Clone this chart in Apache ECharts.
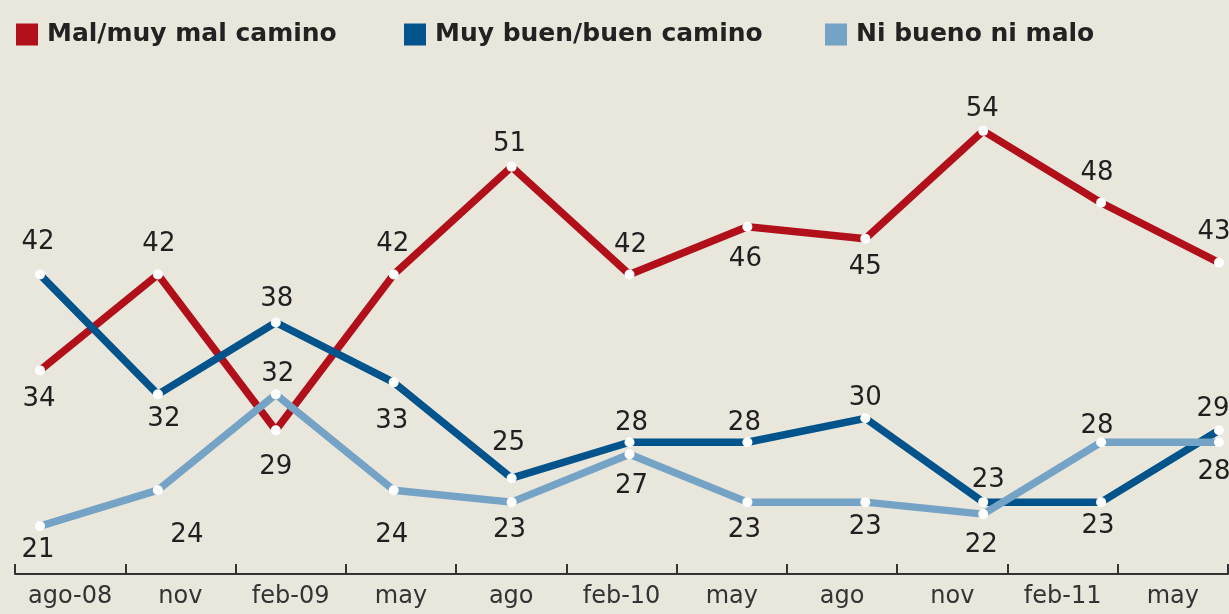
<!DOCTYPE html>
<html><head><meta charset="utf-8">
<script src="https://cdn.jsdelivr.net/npm/echarts@6/dist/echarts.min.js"></script>
<style>html,body{margin:0;padding:0;background:#e9e6dc}#c{width:1229px;height:614px}</style>
</head><body><div id="c"></div>
<script>
const categories = ['ago-08','nov','feb-09','may','ago','feb-10','may','ago','nov','feb-11','may'];
const seriesNames = ['Mal/muy mal camino','Muy buen/buen camino','Ni bueno ni malo'];
const malCamino = [34,42,29,42,51,42,46,45,54,48,43];
const buenCamino = [42,32,38,33,25,28,28,30,23,23,29];
const niBuenoNiMalo = [21,24,32,24,23,27,23,23,22,28,28];

// label placement (dx, dy) relative to each point
const malLabelOffsets = [[-1,29],[1,-30],[0,37],[-1,-30],[-2,-23],[1,-29],[-2,33],[0,29],[-1,-22],[-4,-29],[-5,-30]];
const buenLabelOffsets = [[-2,-32],[6,25],[1,-23],[-2,39],[-3,-35],[2,-19],[-3,-19],[0,-20],[5,-22],[-3,24],[-6,-21]];
const niLabelOffsets = [[-2,24],[29,45],[2,-20],[-2,45],[-2,28],[2,32],[-3,28],[0,25],[-2,31],[-4,-16],[-5,30]];

const colors = ['#b10f1a', '#00538b', '#75a3c5'];
const FONT = 'DejaVu Sans';

const allValues = [malCamino, buenCamino, niBuenoNiMalo];
const allOffsets = [malLabelOffsets, buenLabelOffsets, niLabelOffsets];
const legendLefts = [16, 404, 825];

const chart = echarts.init(document.getElementById('c'), null, { renderer: 'canvas' });

const series = [];
seriesNames.forEach((n, i) => {
  series.push({
    name: n, type: 'line', xAxisIndex: 1, yAxisIndex: 1,
    data: allValues[i], symbol: 'none', color: colors[i],
    lineStyle: { color: colors[i], width: 7.5 },
    z: 2 + i, silent: true, emphasis: { disabled: true }
  });
});
// white dots + value labels, drawn through the axis scales
seriesNames.forEach((n, i) => {
  const offs = allOffsets[i];
  series.push({
    type: 'custom', xAxisIndex: 1, yAxisIndex: 1,
    data: allValues[i].map((v, k) => [k, v]),
    z: 10, silent: true, clip: false,
    renderItem: (params, api) => {
      const k = api.value(0), v = api.value(1);
      const p = api.coord([k, v]);
      const o = offs[k];
      return {
        type: 'group',
        children: [
          { type: 'circle', shape: { cx: p[0], cy: p[1], r: 5 }, style: { fill: '#ffffff' }, z2: 5 },
          { type: 'text', x: p[0] + o[0], y: p[1] + o[1], z2: 6,
            style: { text: String(v), fill: '#231f20', font: '26px "DejaVu Sans"', align: 'center', verticalAlign: 'middle' } }
        ]
      };
    }
  });
});

chart.setOption({
  backgroundColor: '#e9e6dc',
  animation: false,
  legend: seriesNames.map((n, i) => ({
    data: [{ name: n, itemStyle: { color: colors[i], borderWidth: 0 } }],
    left: legendLefts[i], top: 22, padding: 0,
    icon: 'rect', itemWidth: 22, itemHeight: 22,
    selectedMode: false,
    textStyle: { fontFamily: FONT, fontWeight: 'bold', fontSize: 25, color: '#222', padding: [0, 0, 0, 4] }
  })),
  grid: [
    { left: 15, right: 1, top: 59, bottom: 40, containLabel: false },
    { left: 40, right: 10, top: 59, bottom: 40, containLabel: false }
  ],
  xAxis: [
    {
      gridIndex: 0, type: 'category', data: categories, boundaryGap: true,
      axisLine: { show: true, lineStyle: { color: '#333', width: 2 } },
      axisTick: { show: true, inside: true, length: 10, lineStyle: { color: '#333', width: 2 } },
      axisLabel: { fontFamily: FONT, fontSize: 24, color: '#333', margin: 11, interval: 0 },
      splitLine: { show: false }
    },
    { gridIndex: 1, type: 'category', data: categories, boundaryGap: false, show: false }
  ],
  yAxis: [
    { gridIndex: 0, type: 'value', min: 17, max: 60, show: false, splitLine: { show: false } },
    { gridIndex: 1, type: 'value', min: 17, max: 60, show: false, splitLine: { show: false } }
  ],
  series: series
});
</script>
</body></html>
